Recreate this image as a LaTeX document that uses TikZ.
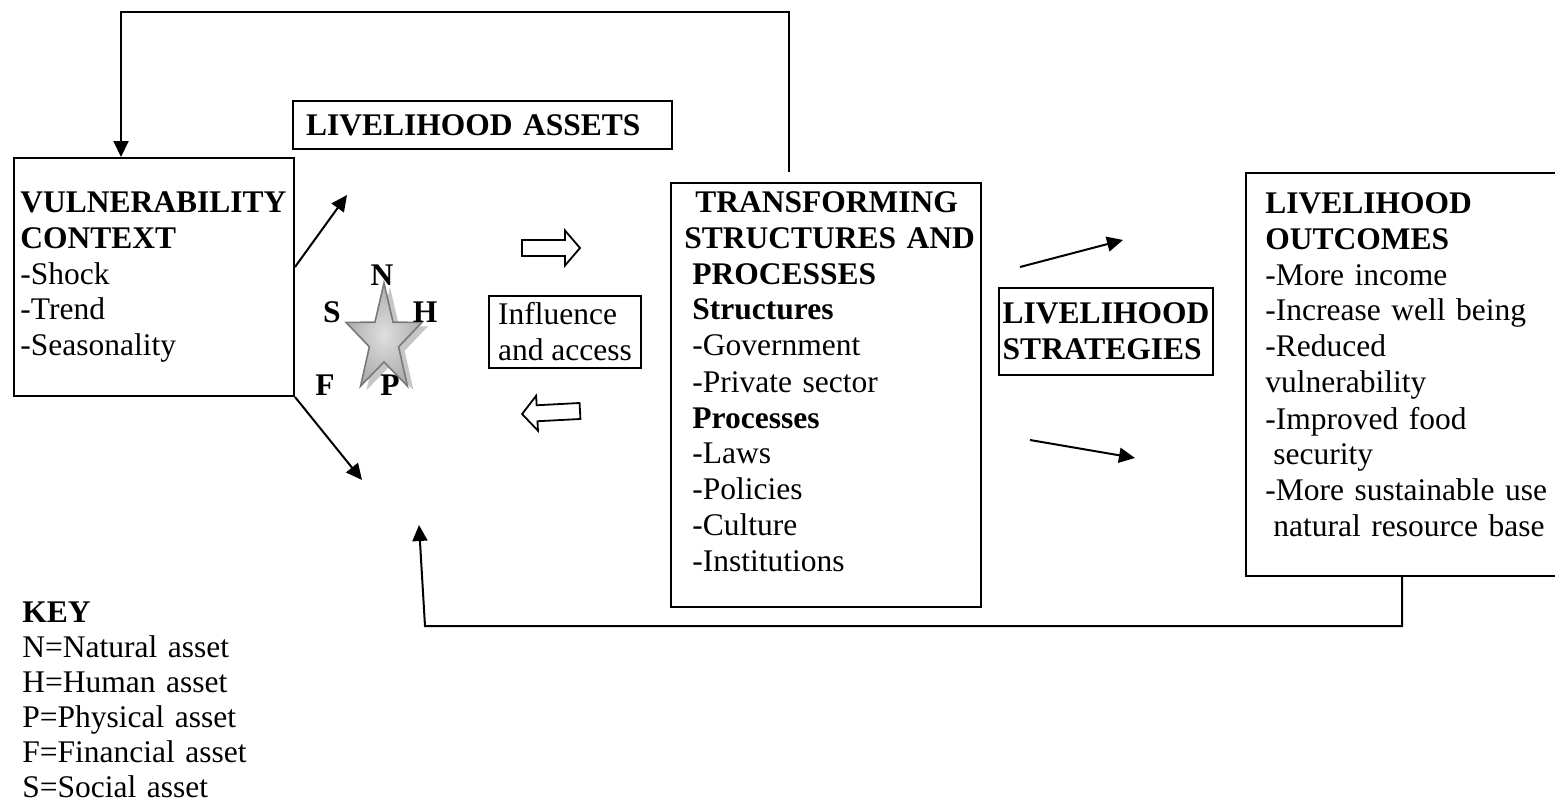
\documentclass[tikz,border=0pt]{standalone}
\usepackage{fontspec}
\setmainfont{Liberation Serif}
\usetikzlibrary{arrows.meta,shadows}

\newcommand{\slfont}{\fontsize{15.75}{18}\selectfont}

\tikzset{
  box/.style={draw, line width=1pt, anchor=north west, inner sep=0pt},
  txt/.style={anchor=base west, inner sep=0pt, align=left, text width=150pt},
  arr/.style={-{Triangle[length=8pt,width=7.5pt]}, line width=1pt},
  hollow/.style={draw, line width=0.9pt, fill=white},
  letter/.style={inner sep=0pt, font=\slfont\bfseries}
}

\begin{document}
\begin{tikzpicture}[x=0.5pt, y=-0.5pt, font=\slfont]
  \useasboundingbox (0,0) rectangle (1555,803);
  \clip (0,0) rectangle (1555,803);

  \node[box, minimum width=140pt, minimum height=119pt] (vuln) at (13,157) {};
  \node[txt] (vulntxt) at (20,212) {\textbf{VULNERABILITY}\\ \textbf{CONTEXT}\\ -Shock\\ -Trend\\ -Seasonality};

  \node[box, minimum height=24pt, text width=176.5pt, inner xsep=6.5pt, align=left] (assets) at (292,100) {\textbf{LIVELIHOOD ASSETS}};

  \node[box, minimum width=76pt, minimum height=36pt, align=left] (infl) at (488,295) {Influence\\and access};

  \node[box, minimum width=155pt, minimum height=212pt] (tsp) at (670,182) {};
  \node[txt] (tsptxt) at (692,212) {\hspace*{1.5pt}\textbf{TRANSFORMING}\\
    \hspace*{-4pt}\textbf{STRUCTURES AND}\\ \textbf{PROCESSES}\\ \textbf{Structures}\\
    -Government\\ -Private sector\\ \textbf{Processes}\\ -Laws\\ -Policies\\ -Culture\\ -Institutions};

  \node[box, minimum width=107pt, minimum height=43.5pt, align=left] (strat) at (998,287) {\textbf{LIVELIHOOD}\\ \textbf{STRATEGIES}};

  \node[box, minimum width=200pt, minimum height=201.5pt] (outc) at (1245,172) {};
  \node[txt] (outctxt) at (1265,213) {\textbf{LIVELIHOOD}\\ \textbf{OUTCOMES}\\ -More income\\ -Increase well being\\
    -Reduced\\ vulnerability\\ -Improved food\\ \hspace*{4pt}security\\ -More sustainable use\\ \hspace*{4pt}natural resource base};

  \node[txt, font=\fontsize{15.75}{17.5}\selectfont] (key) at (22,622) {\textbf{KEY}\\ N=Natural asset\\ H=Human asset\\
    P=Physical asset\\ F=Financial asset\\ S=Social asset};

  % assets star
  \begin{scope}[shift={(384,340)}, xscale=0.7]
    \shadedraw[inner color=gray!25, outer color=gray!65, draw=gray!95!black, line width=0.8pt,
      drop shadow={shadow xshift=3pt, shadow yshift=-2pt, fill=gray!45, opacity=1}]
      (-90:57) \foreach \k in {0,...,4} { -- ({-54+72*\k}:22) -- ({-18+72*\k}:57) } -- cycle;
  \end{scope}
  \node[letter] (n) at (382,275) {N};
  \node[letter] (s) at (332,312) {S};
  \node[letter] (h) at (425,312) {H};
  \node[letter] (f) at (325,385) {F};
  \node[letter] (p) at (390,385) {P};

  \draw[hollow, shift={(522,248)}] (0,-8) -- (43,-8) -- (43,-17.5) -- (58,0) -- (43,17.5) -- (43,8) -- (0,8) -- cycle;
  \draw[hollow, shift={(580,411)}, rotate=183] (0,-8) -- (43,-8) -- (43,-17.5) -- (58,0) -- (43,17.5) -- (43,8) -- (0,8) -- cycle;

  \coordinate (tspup) at (789,172);
  \coordinate (topl) at (121,12);
  \coordinate (vtop) at (121,157);
  \coordinate (aup) at (347,195);
  \coordinate (adn) at (362,480);
  \coordinate (s1a) at (1020,267);
  \coordinate (s1b) at (1123,240);
  \coordinate (s2a) at (1030,440);
  \coordinate (s2b) at (1135,458);
  \coordinate (obot) at (1402,575);
  \coordinate (botl) at (425,626);
  \coordinate (atip) at (419,525);

  \draw[arr] (tspup) |- (topl) -- (vtop);
  \draw[arr] ([yshift=5pt]vuln.east) -- (aup);
  \draw[arr] (vuln.south east) -- (adn);
  \draw[arr] (s1a) -- (s1b);
  \draw[arr] (s2a) -- (s2b);
  \draw[arr] (obot) |- (botl) -- (atip);
\end{tikzpicture}
\end{document}
